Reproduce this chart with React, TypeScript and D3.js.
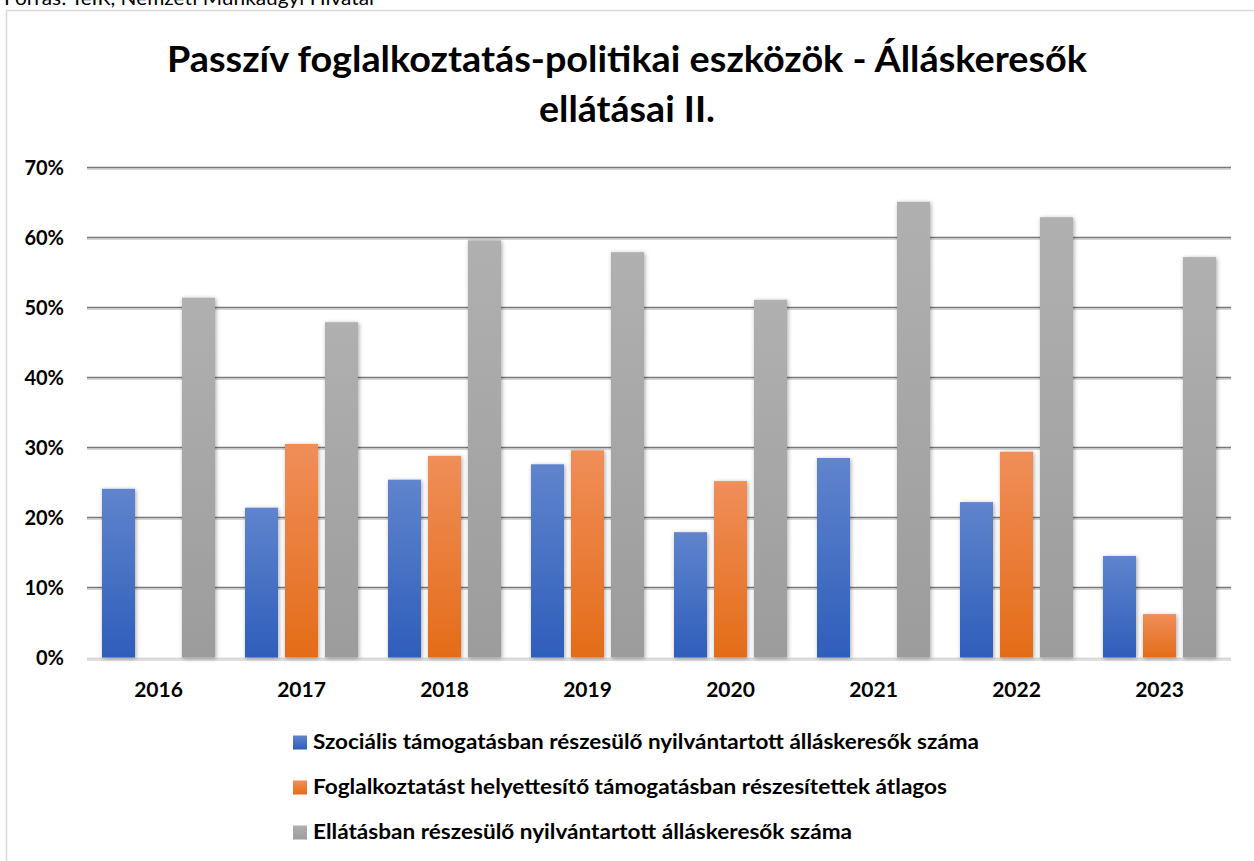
import React from "react";
import * as d3 from "d3";

const years = ["2016", "2017", "2018", "2019", "2020", "2021", "2022", "2023"];
const socialis = [24.1, 21.4, 25.4, 27.6, 17.9, 28.5, 22.2, 14.5];
const foglalkoztatast: (number | null)[] = [null, 30.5, 28.8, 29.6, 25.2, null, 29.4, 6.2];
const ellatasban = [51.4, 47.9, 59.6, 57.9, 51.1, 65.1, 62.9, 57.2];
const yTicks = [0, 10, 20, 30, 40, 50, 60, 70];
const seriesNames = [
  "Szociális támogatásban részesülő nyilvántartott álláskeresők száma",
  "Foglalkoztatást helyettesítő támogatásban részesítettek átlagos",
  "Ellátásban részesülő nyilvántartott álláskeresők száma",
];
const titleLines = ["Passzív foglalkoztatás-politikai eszközök - Álláskeresők", "ellátásai II."];
const sourceText = "Forrás: TeIR, Nemzeti Munkaügyi Hivatal";

const W = 1254;
const H = 861;
const plotL = 87;
const plotR = 1231;
const plotT = 167.5;
const plotB = 657.5;

const grads = [
  { id: "gBlue", top: "#6084cd", bottom: "#2e5eba" },
  { id: "gOrange", top: "#f08e59", bottom: "#e46c18" },
  { id: "gGray", top: "#b0b0b0", bottom: "#9c9c9c" },
];
const legendW = [666, 634, 539];

export default function App() {
  const x = d3.scaleBand<string>().domain(years).range([plotL, plotR]).padding(0);
  const cw = x.bandwidth();
  const inner = d3
    .scaleBand<number>()
    .domain([0, 1, 2])
    .range([cw * (15 / 143), cw * (128 / 143)])
    .paddingInner(7 / 40)
    .paddingOuter(0);
  const y = d3.scaleLinear().domain([0, 70]).range([plotB, plotT]);
  const series = [socialis, foglalkoztatast, ellatasban];
  const font = "Lato, 'Open Sans', sans-serif";

  return (
    <svg
      width={W}
      height={H}
      style={{ position: "absolute", left: 0, top: 0, background: "#fff" }}
      fontFamily={font}
    >
      <defs>
        {grads.map((g) => (
          <linearGradient key={g.id} id={g.id} x1="0" y1="0" x2="0" y2="1">
            <stop offset="0%" stopColor={g.top} />
            <stop offset="100%" stopColor={g.bottom} />
          </linearGradient>
        ))}
        <filter id="shadow" x="-40%" y="-10%" width="180%" height="120%">
          <feDropShadow dx="1" dy="1" stdDeviation="2" floodColor="#000" floodOpacity="0.35" />
        </filter>
      </defs>

      <text x={4} y={5} fontSize={19} fill="#000" textLength={370} lengthAdjust="spacingAndGlyphs">
        {sourceText}
      </text>

      <rect x={6.5} y={10.5} width={W + 20} height={H + 20} fill="#fff" stroke="#d9d9d9" strokeWidth={1.5} />

      {titleLines.map((t, i) => (
        <text
          key={i}
          x={627}
          y={i === 0 ? 72 : 122}
          textAnchor="middle"
          fontSize={36}
          fontWeight="bold"
          fill="#000"
          textLength={i === 0 ? 920 : 176}
          lengthAdjust="spacingAndGlyphs"
        >
          {t}
        </text>
      ))}

      {yTicks.map((t) => (
        <g key={t}>
          {t > 0 && (
            <g>
              <line x1={plotL} x2={plotR} y1={y(t) + 1.6} y2={y(t) + 1.6} stroke="#c8c8c8" strokeWidth={1.2} />
              <line x1={plotL} x2={plotR} y1={y(t)} y2={y(t)} stroke="#787878" strokeWidth={1.6} />
            </g>
          )}
          <text x={64} y={y(t) + 7} textAnchor="end" fontSize={20} fontWeight="bold" fill="#000">
            {t}%
          </text>
        </g>
      ))}

      <line x1={plotL} x2={plotR} y1={plotB + 2.5} y2={plotB + 2.5} stroke="#c4c4c4" strokeWidth={1.2} />
      <line x1={plotL} x2={plotR} y1={plotB + 1} y2={plotB + 1} stroke="#d9d9d9" strokeWidth={2} />

      {years.map((yr, i) => (
        <g key={yr} transform={`translate(${x(yr)},0)`}>
          {series.map((s, k) => {
            const v = s[i];
            if (v == null) return null;
            return (
              <rect
                key={k}
                x={inner(k)}
                y={y(v)}
                width={inner.bandwidth()}
                height={plotB - y(v)}
                fill={`url(#${grads[k].id})`}
                filter="url(#shadow)"
              />
            );
          })}
          <text x={cw / 2} y={697} textAnchor="middle" fontSize={21} fontWeight="bold" fill="#000">
            {yr}
          </text>
        </g>
      ))}

      {seriesNames.map((n, k) => (
        <g key={n} transform={`translate(293,${749 + k * 45})`}>
          <rect x={0} y={-13.5} width={14} height={14} fill={`url(#${grads[k].id})`} />
          <text
            x={20}
            y={0}
            fontSize={20}
            fontWeight="bold"
            fill="#000"
            textLength={legendW[k]}
            lengthAdjust="spacingAndGlyphs"
          >
            {n}
          </text>
        </g>
      ))}
    </svg>
  );
}
